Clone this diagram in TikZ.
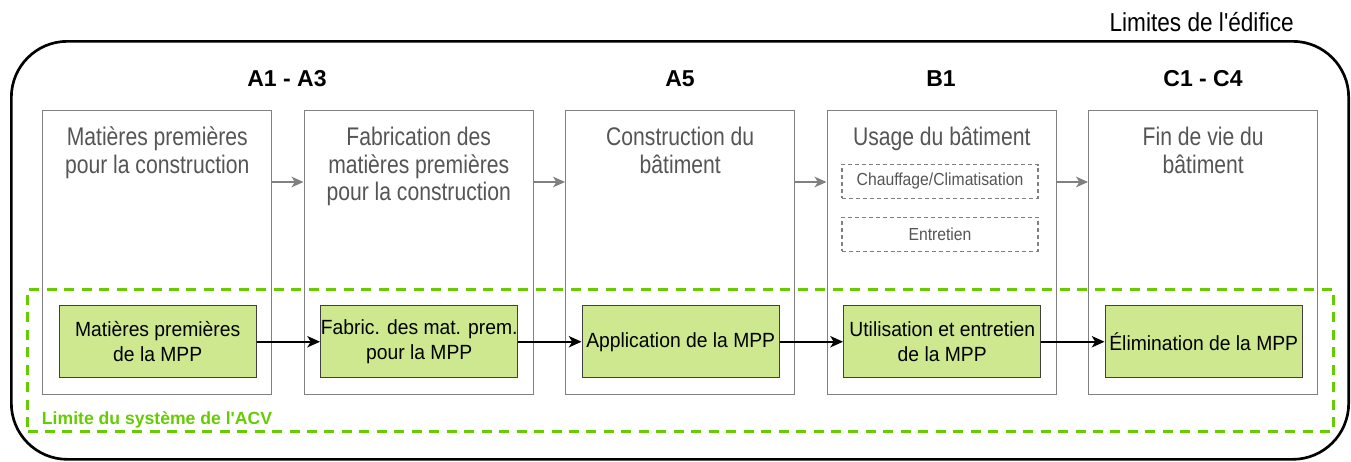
\documentclass[tikz,border=0pt]{standalone}
\usepackage{fontspec}
\setmainfont{Liberation Sans}[Ligatures=TeXOff]
\newfontfamily\phasefont{Liberation Sans}[FakeStretch=0.83, Ligatures=TeXOff]
\newfontfamily\edificefont{Liberation Sans}[FakeStretch=0.87, Ligatures=TeXOff]
\newfontfamily\subfont{Liberation Sans}[FakeStretch=0.90, Ligatures=TeXOff]
\newfontfamily\mppfont{Liberation Sans}[FakeStretch=0.94, Ligatures=TeXOff]
\usetikzlibrary{arrows.meta}
\definecolor{phasegray}{RGB}{128,128,128}
\definecolor{textgray}{RGB}{85,85,85}
\definecolor{mppfill}{RGB}{205,232,143}
\definecolor{mppborder}{RGB}{64,64,64}
\definecolor{acvgreen}{RGB}{102,204,0}
\tikzset{
  phasebox/.style={draw=phasegray, line width=1.1pt, anchor=north west,
    minimum width=171.75pt, minimum height=213pt, inner sep=0pt},
  phasetext/.style={anchor=north, align=center, inner sep=0pt, text=textgray,
    font=\phasefont\fontsize{19.1pt}{20.9pt}\selectfont},
  header/.style={anchor=base, inner sep=0pt,
    font=\bfseries\fontsize{17.25pt}{20pt}\selectfont},
  subbox/.style={draw=phasegray, dashed, dash pattern=on 3pt off 2.2pt,
    line width=0.9pt, minimum width=147pt, minimum height=25.5pt, inner sep=0pt,
    text=textgray, font=\subfont\fontsize{13.1pt}{15pt}\selectfont},
  mppbox/.style={draw=mppborder, fill=mppfill, line width=1.1pt, anchor=north west,
    minimum width=147.75pt, minimum height=54pt, inner sep=0pt, align=center,
    font=\mppfont\fontsize{15.4pt}{18.4pt}\selectfont},
  flowgray/.style={draw=phasegray, line width=1.2pt,
    -{Stealth[length=9pt, width=8pt, inset=2.5pt]}},
  flowblack/.style={draw=black, line width=1.2pt,
    -{Stealth[length=9.5pt, width=8.5pt, inset=2.5pt]}},
}
\begin{document}
\begin{tikzpicture}[x=0.75pt, y=-0.75pt]
\useasboundingbox (0,0) rectangle (1351,461);

% building boundary
\node[draw=black, line width=2pt, rounded corners=42pt, anchor=north west,
  minimum width=1003pt, minimum height=313.5pt, inner sep=0pt] (edifice) at (10,40) {};
\node[anchor=base east, inner sep=0pt,
  font=\edificefont\fontsize{19.5pt}{22pt}\selectfont] (edlabel) at (1294,31.5) {Limites de l'édifice};

% life-cycle stage headers
\node[header] (hA) at (287,86) {A1 - A3};
\node[header] (hB) at (680,86) {A5};
\node[header] (hC) at (941,86) {B1};
\node[header] (hD) at (1203,86) {C1 - C4};

% building life-cycle stages
\node[phasebox] (p1) at (42,110) {};
\node[phasebox] (p2) at (303.5,110) {};
\node[phasebox] (p3) at (565,110) {};
\node[phasebox] (p4) at (826.5,110) {};
\node[phasebox] (p5) at (1088,110) {};

\node[phasetext] (t1) at (p1.north |- 0,126.5) {Matières premières\\pour la construction};
\node[phasetext] (t2) at (p2.north |- 0,126.5) {Fabrication des\\matières premières\\pour la construction};
\node[phasetext] (t3) at (p3.north |- 0,126.5) {Construction du\\bâtiment};
\node[phasetext] (t4) at (p4.north |- 0,126.5) {Usage du bâtiment};
\node[phasetext] (t5) at (p5.north |- 0,126.5) {Fin de vie du\\bâtiment};

\node[subbox] (s1) at (940,181.3) {Chauffage/Climatisation};
\node[subbox] (s2) at (940,234.2) {Entretien};

% stage flow
\coordinate (upper) at (0,182);
\draw[flowgray] (p1.east |- upper) -- (p2.west |- upper);
\draw[flowgray] (p2.east |- upper) -- (p3.west |- upper);
\draw[flowgray] (p3.east |- upper) -- (p4.west |- upper);
\draw[flowgray] (p4.east |- upper) -- (p5.west |- upper);

% LCA system boundary
\node[draw=acvgreen, line width=2.25pt, dash pattern=on 7.5pt off 5.6pt,
  anchor=north west, minimum width=979.5pt, minimum height=106.5pt,
  inner sep=0pt] (acv) at (26,287.5) {};
\node[anchor=base west, inner sep=0pt, text=acvgreen,
  font=\bfseries\fontsize{13.2pt}{15pt}\selectfont] (acvlabel) at (41.7,424.3) {Limite du système de l'ACV};

% material life cycle
\node[mppbox] (m1) at (58.5,305) {Matières premières\\de la MPP};
\node[mppbox] (m2) at (320,305) {Fabric. des mat. prem.\\pour la MPP};
\node[mppbox] (m3) at (581.5,305) {Application de la MPP};
\node[mppbox] (m4) at (843,305) {Utilisation et entretien\\de la MPP};
\node[mppbox] (m5) at (1104.5,305) {Élimination de la MPP};

\draw[flowblack] (m1) -- (m2);
\draw[flowblack] (m2) -- (m3);
\draw[flowblack] (m3) -- (m4);
\draw[flowblack] (m4) -- (m5);
\end{tikzpicture}
\end{document}
